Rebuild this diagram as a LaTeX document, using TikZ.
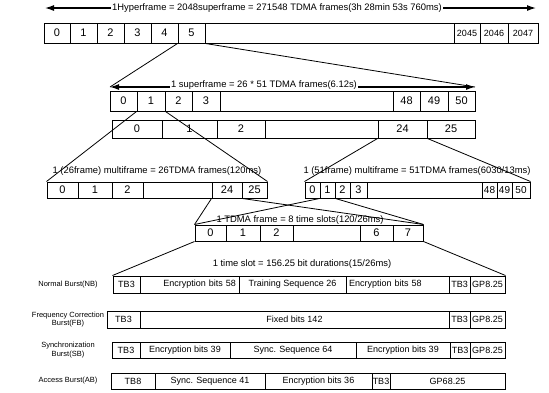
\documentclass[tikz,border=0pt]{standalone}
\usepackage{fontspec}
\setmainfont{Liberation Sans}
\usetikzlibrary{arrows.meta}

\begin{document}
\begin{tikzpicture}[
  x=1pt, y=-1pt,
  cell/.style={draw, line width=1pt, inner sep=0pt, minimum height=#1, font=\fontsize{11}{12}\selectfont},
  slot/.style={draw, line width=1pt, inner sep=0pt, minimum height=#1, font=\fontsize{9}{10}\selectfont},
  span/.style={font=\fontsize{9.4}{11}\selectfont, inner sep=1pt},
  side/.style={font=\fontsize{7.5}{8.5}\selectfont, align=center},
  arrow/.style={{Latex[length=9pt,width=6pt]}-{Latex[length=9pt,width=6pt]}, line width=1.2pt},
  zoomline/.style={line width=0.8pt}
]
  \useasboundingbox (0,0) rectangle (549,392);

  % Hyperframe
  \coordinate (hl) at (45,8);
  \coordinate (hr) at (536,8);
  \draw[arrow] (hl) -- (hr);
  \node[span, fill=white] (htext) at (277,8) {1Hyperframe = 2048superframe = 271548 TDMA frames(3h 28min 53s 760ms)};

  \node[cell=20pt, minimum width=26pt] (hf0) at (57,33) {0};
  \node[cell=20pt, minimum width=27pt] (hf1) at (83.5,33) {1};
  \node[cell=20pt, minimum width=27pt] (hf2) at (110.5,33) {2};
  \node[cell=20pt, minimum width=27pt] (hf3) at (137.5,33) {3};
  \node[cell=20pt, minimum width=27pt] (hf4) at (164.5,33) {4};
  \node[cell=20pt, minimum width=27pt] (hf5) at (191.5,33) {5};
  \node[cell=20pt, minimum width=249pt] (hfx) at (329.5,33) {};
  \node[slot=20pt, minimum width=26pt] (hf2045) at (467,33) {2045};
  \node[slot=20pt, minimum width=28pt] (hf2046) at (494,33) {2046};
  \node[slot=20pt, minimum width=30pt] (hf2047) at (523,33) {2047};

  % Superframe
  \coordinate (sl) at (110,87);
  \coordinate (sr) at (475,87);
  \draw[arrow] (sl) -- (sr);
  \node[span, fill=white] (stext) at (264,85) {1 superframe = 26 * 51 TDMA frames(6.12s)};
  \draw[zoomline] (hf5.south west) -- (sl);
  \draw[zoomline] (hf5.south east) -- (sr);

  \node[cell=20pt, minimum width=27pt] (sf0) at (123.5,101) {0};
  \node[cell=20pt, minimum width=28pt] (sf1) at (151,101) {1};
  \node[cell=20pt, minimum width=27pt] (sf2) at (178.5,101) {2};
  \node[cell=20pt, minimum width=28pt] (sf3) at (206,101) {3};
  \node[cell=20pt, minimum width=173pt] (sfx) at (306.5,101) {};
  \node[cell=20pt, minimum width=27pt] (sf48) at (406.5,101) {48};
  \node[cell=20pt, minimum width=28pt] (sf49) at (434,101) {49};
  \node[cell=20pt, minimum width=27pt] (sf50) at (461.5,101) {50};

  \node[cell=18pt, minimum width=50pt] (mr0) at (137,129) {0};
  \node[cell=18pt, minimum width=55pt] (mr1) at (189.5,129) {1};
  \node[cell=18pt, minimum width=48pt] (mr2) at (241,129) {2};
  \node[cell=18pt, minimum width=113pt] (mrx) at (321.5,129) {};
  \node[cell=18pt, minimum width=49pt] (mr24) at (402.5,129) {24};
  \node[cell=18pt, minimum width=48pt] (mr25) at (451,129) {25};

  % 26 multiframe
  \node[span] (mtext) at (157,171) {1 (26frame) multiframe = 26TDMA frames(120ms)};
  \node[cell=16pt, minimum width=31pt] (ma0) at (62.5,190) {0};
  \node[cell=16pt, minimum width=34pt] (ma1) at (95,190) {1};
  \node[cell=16pt, minimum width=31pt] (ma2) at (127.5,190) {2};
  \node[cell=16pt, minimum width=69pt] (max) at (177.5,190) {};
  \node[cell=16pt, minimum width=30pt] (ma24) at (227,190) {24};
  \node[cell=16pt, minimum width=25pt] (ma25) at (254.5,190) {25};
  \draw[zoomline] (sf1.south west) -- (ma0.north west);
  \draw[zoomline] (sf1.south east) -- (ma25.north east);

  % 51 multiframe
  \node[span] (ntext) at (417,171) {1 (51frame) multiframe = 51TDMA frames(6030/13ms)};
  \node[cell=16pt, minimum width=15pt] (mb0) at (312.5,190) {0};
  \node[cell=16pt, minimum width=15pt] (mb1) at (327.5,190) {1};
  \node[cell=16pt, minimum width=15pt] (mb2) at (342.5,190) {2};
  \node[cell=16pt, minimum width=17pt] (mb3) at (358.5,190) {3};
  \node[cell=16pt, minimum width=115pt] (mbx) at (424.5,190) {};
  \node[slot=16pt, minimum width=15pt, font=\fontsize{10}{11}\selectfont] (mb48) at (489.5,190) {48};
  \node[slot=16pt, minimum width=15pt, font=\fontsize{10}{11}\selectfont] (mb49) at (504.5,190) {49};
  \node[slot=16pt, minimum width=18pt, font=\fontsize{10}{11}\selectfont] (mb50) at (521,190) {50};
  \draw[zoomline] (mr24.south west) -- (mb0.north west);
  \draw[zoomline] (mr24.south east) -- (mb50.north east);

  % TDMA frame
  \node[span] (ttext) at (300,220) {1 TDMA frame = 8 time slots(120/26ms)};
  \node[cell=16pt, minimum width=31pt] (ts0) at (210.5,233) {0};
  \node[cell=16pt, minimum width=34pt] (ts1) at (243,233) {1};
  \node[cell=16pt, minimum width=33pt] (ts2) at (276.5,233) {2};
  \node[cell=16pt, minimum width=67pt] (tsx) at (326.5,233) {};
  \node[cell=16pt, minimum width=33pt] (ts6) at (376.5,233) {6};
  \node[cell=16pt, minimum width=30pt] (ts7) at (408,233) {7};
  \draw[zoomline] (ma24.south west) -- (ts0.north west);
  \draw[zoomline] (ma24.south east) -- (ts7.north east);
  \draw[zoomline] (mb1.south west) -- (ts0.north west);
  \draw[zoomline] (mb1.south east) -- (ts7.north east);

  % Time slot
  \node[span] (btext) at (302,264) {1 time slot = 156.25 bit durations(15/26ms)};

  % Normal burst
  \node[side] (nblabel) at (68,284.5) {Normal Burst(NB)};
  \node[slot=17pt, minimum width=27pt] (nb1) at (126.5,284.5) {TB3};
  \node[slot=17pt, text width=93pt, inner xsep=3pt, align=right] (nb2) at (189.5,284.5) {Encryption bits 58};
  \node[slot=17pt, minimum width=107pt] (nb3) at (292.5,284.5) {Training Sequence 26};
  \node[slot=17pt, text width=97pt, inner xsep=3pt, align=left] (nb4) at (397.5,284.5) {Encryption bits 58};
  \node[slot=17pt, minimum width=21pt] (nb5) at (459.5,284.5) {TB3};
  \node[slot=17pt, minimum width=35pt] (nb6) at (487.5,284.5) {GP8.25};
  \draw[zoomline] (ts0.south west) -- (nb1.north west);
  \draw[zoomline] (ts7.south east) -- (nb6.north east);

  % Frequency correction burst
  \node[side] (fblabel) at (68,319.5) {Frequency Correction\\Burst(FB)};
  \node[slot=17pt, minimum width=33pt] (fb1) at (123.5,319.5) {TB3};
  \node[slot=17pt, minimum width=309pt] (fb2) at (294.5,319.5) {Fixed bits 142};
  \node[slot=17pt, minimum width=21pt] (fb3) at (459.5,319.5) {TB3};
  \node[slot=17pt, minimum width=35pt] (fb4) at (487.5,319.5) {GP8.25};

  % Synchronization burst
  \node[side] (sblabel) at (68,350) {Synchronization\\Burst(SB)};
  \node[slot=16pt, minimum width=28pt] (sb1) at (126,350) {TB3};
  \node[slot=16pt, minimum width=90pt] (sb2) at (185,350) {Encryption bits 39};
  \node[slot=16pt, minimum width=126pt] (sb3) at (293,350) {Sync. Sequence 64};
  \node[slot=16pt, minimum width=94pt] (sb4) at (403,350) {Encryption bits 39};
  \node[slot=16pt, minimum width=20pt] (sb5) at (460,350) {TB3};
  \node[slot=16pt, minimum width=35pt] (sb6) at (487.5,350) {GP8.25};

  % Access burst
  \node[side] (ablabel) at (68,381) {Access Burst(AB)};
  \node[slot=16pt, minimum width=44pt] (ab1) at (133,381) {TB8};
  \node[slot=16pt, minimum width=110pt] (ab2) at (210,381) {Sync. Sequence 41};
  \node[slot=16pt, minimum width=107pt] (ab3) at (318.5,381) {Encryption bits 36};
  \node[slot=16pt, minimum width=18pt] (ab4) at (381,381) {TB3};
  \node[slot=16pt, minimum width=115pt] (ab5) at (447.5,381) {GP68.25};
\end{tikzpicture}
\end{document}
